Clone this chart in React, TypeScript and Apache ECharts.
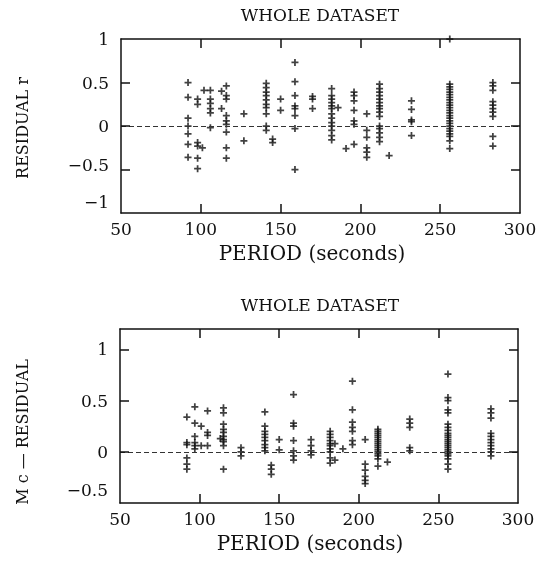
import React, { useEffect, useRef } from "react";
import * as echarts from "echarts";

// Tick values shared by both panels
const periodTicks = [50, 100, 150, 200, 250, 300];
const topResidualTicks = [-1, -0.5, 0, 0.5, 1];
const bottomResidualTicks = [-0.5, 0, 0.5, 1];

// Top panel: RESIDUAL r, grouped by period column
const topPeriod = [92, 98, 101, 102, 106, 113, 116, 127, 141, 145, 150, 159, 170, 182, 186, 191, 196, 204, 212, 218, 232, 256, 283];
const topResidual = [
  [0.5, 0.33, 0.09, 0.0, -0.09, -0.21, -0.36],
  [0.31, 0.25, -0.19, -0.23, -0.37, -0.49],
  [-0.25],
  [0.41],
  [0.41, 0.31, 0.26, 0.2, 0.15, -0.02],
  [0.4, 0.2],
  [0.46, 0.35, 0.31, 0.12, 0.06, 0.02, -0.07, -0.25, -0.37],
  [0.14, -0.17],
  [0.49, 0.44, 0.39, 0.35, 0.3, 0.25, 0.21, 0.14, 0.0, -0.05],
  [-0.15, -0.19],
  [0.31, 0.18],
  [0.73, 0.51, 0.35, 0.23, 0.2, 0.12, -0.03, -0.5],
  [0.34, 0.31, 0.2],
  [0.43, 0.35, 0.31, 0.27, 0.23, 0.2, 0.14, 0.09, 0.04, 0.0, -0.05, -0.11, -0.16],
  [0.21],
  [-0.26],
  [0.39, 0.35, 0.29, 0.18, 0.06, 0.02, -0.21],
  [0.14, -0.05, -0.13, -0.25, -0.3, -0.36],
  [0.48, 0.43, 0.39, 0.35, 0.31, 0.27, 0.23, 0.2, 0.16, 0.11, 0.0, -0.03, -0.08, -0.13, -0.18],
  [-0.34],
  [0.29, 0.19, 0.07, 0.05, -0.11],
  [1.0, 0.48, 0.45, 0.42, 0.39, 0.36, 0.33, 0.3, 0.27, 0.24, 0.21, 0.18, 0.15, 0.12, 0.09, 0.06, 0.03, 0.0, -0.03, -0.06, -0.09, -0.12, -0.17, -0.26],
  [0.5, 0.46, 0.41, 0.28, 0.24, 0.2, 0.16, 0.11, -0.12, -0.23],
];

// Bottom panel: M c — RESIDUAL, grouped by period column
const bottomPeriod = [92, 97, 101, 105, 113, 115, 126, 141, 145, 150, 159, 170, 182, 185, 190, 196, 204, 212, 218, 232, 256, 283];
const bottomResidual = [
  [0.34, 0.09, 0.07, -0.06, -0.12, -0.17],
  [0.44, 0.28, 0.15, 0.09, 0.06, 0.03],
  [0.25, 0.06],
  [0.4, 0.19, 0.16, 0.06],
  [0.13],
  [0.43, 0.38, 0.27, 0.22, 0.19, 0.15, 0.12, 0.1, 0.06, -0.17],
  [0.04, 0.0, -0.04],
  [0.39, 0.25, 0.2, 0.17, 0.14, 0.11, 0.07, 0.04, 0.01],
  [-0.13, -0.17, -0.22],
  [0.12, 0.02],
  [0.56, 0.28, 0.25, 0.11, 0.01, -0.04, -0.08],
  [0.12, 0.06, 0.01, -0.03],
  [0.2, 0.17, 0.14, 0.11, 0.08, 0.06, 0.03, 0.0, -0.06, -0.11],
  [0.08, -0.08],
  [0.03],
  [0.69, 0.41, 0.29, 0.24, 0.2, 0.11, 0.07],
  [0.12, -0.12, -0.18, -0.24, -0.28, -0.31],
  [0.22, 0.2, 0.18, 0.16, 0.14, 0.12, 0.1, 0.08, 0.06, 0.04, 0.02, 0.0, -0.02, -0.04, -0.07, -0.14],
  [-0.1],
  [0.32, 0.28, 0.24, 0.04, 0.01],
  [0.76, 0.53, 0.5, 0.41, 0.38, 0.27, 0.24, 0.21, 0.18, 0.16, 0.14, 0.12, 0.1, 0.08, 0.06, 0.04, 0.02, 0.0, -0.02, -0.04, -0.07, -0.12, -0.17],
  [0.42, 0.38, 0.33, 0.18, 0.15, 0.12, 0.09, 0.06, 0.03, 0.0, -0.04],
];

const panelTitle = "WHOLE DATASET";
const xName = "PERIOD (seconds)";
const topYName = "RESIDUAL r";
const bottomYName = "M c — RESIDUAL";

const FONT = "DejaVu Serif";
const INK = "#111111";
const PLUS = "path://M3,0 L5,0 L5,3 L8,3 L8,5 L5,5 L5,8 L3,8 L3,5 L0,5 L0,3 L3,3 Z";
const TICK_PX = 9;

function flatten(periods: number[], residuals: number[][]) {
  const out: number[][] = [];
  periods.forEach((p, i) => residuals[i].forEach((r) => out.push([p, r])));
  return out;
}

function fmtNum(v: number) {
  return v < 0 ? "\u2212" + Math.abs(v) : String(v);
}

const line = () => ({ show: true, onZero: false, lineStyle: { color: INK, width: 1.5 } });

type PanelProps = {
  top: number;
  height: number;
  grid: { left: number; top: number; width: number; height: number };
  yTicks: number[];
  yMax: number;
  periods: number[];
  residuals: number[][];
  yName: string;
  yNameY: number;
  xNameX: number;
  raise: (v: number) => number;
};

function Panel(p: PanelProps) {
  const ref = useRef<HTMLDivElement>(null);
  useEffect(() => {
    if (!ref.current) return;
    const chart = echarts.init(ref.current, null, { renderer: "svg" });
    const xMin = periodTicks[0];
    const xMax = periodTicks[periodTicks.length - 1];
    const yMin = p.yTicks[0];
    const yMax = p.yMax;
    const gBottom = p.grid.top + p.grid.height;
    // inward tick marks, built from the tick arrays (length converted from pixels to data units)
    const dx = (TICK_PX * (xMax - xMin)) / p.grid.width;
    const dy = (TICK_PX * (yMax - yMin)) / p.grid.height;
    const tickStyle = { type: "solid", color: INK, width: 1.5 };
    const tickSegs: any[] = [];
    periodTicks.filter((t) => t > xMin && t < xMax).forEach((t) => {
      tickSegs.push([{ coord: [t, yMin], lineStyle: tickStyle }, { coord: [t, yMin + dy] }]);
      tickSegs.push([{ coord: [t, yMax], lineStyle: tickStyle }, { coord: [t, yMax - dy] }]);
    });
    p.yTicks.filter((v) => v > yMin && v < yMax).forEach((v) => {
      tickSegs.push([{ coord: [xMin, v], lineStyle: tickStyle }, { coord: [xMin + dx, v] }]);
      tickSegs.push([{ coord: [xMax, v], lineStyle: tickStyle }, { coord: [xMax - dx, v] }]);
    });
    chart.setOption({
      animation: false,
      grid: p.grid,
      xAxis: [
        {
          type: "value", min: xMin, max: xMax, interval: 50, position: "bottom",
          splitLine: { show: false }, axisLine: line(), axisTick: { show: false },
          axisLabel: { fontFamily: FONT, fontSize: 17, color: INK, margin: 7 },
        },
        {
          type: "value", min: xMin, max: xMax, interval: 50, position: "top",
          splitLine: { show: false }, axisLine: line(), axisTick: { show: false },
          axisLabel: { show: false },
        },
      ],
      yAxis: [
        {
          type: "value", min: yMin, max: yMax, interval: 0.5, position: "left",
          splitLine: { show: false }, axisLine: line(), axisTick: { show: false },
          axisLabel: {
            fontFamily: FONT, fontSize: 17, color: INK, margin: 12,
            formatter: (v: number) => {
              if (v > 1.001) return "";
              const r = p.raise(v);
              return r > 0 ? `{u${r}|${fmtNum(v)}}` : fmtNum(v);
            },
            rich: {
              u10: { fontFamily: FONT, fontSize: 17, color: INK, padding: [0, 0, 10, 0] },
              u22: { fontFamily: FONT, fontSize: 17, color: INK, padding: [0, 0, 22, 0] },
              u26: { fontFamily: FONT, fontSize: 17, color: INK, padding: [0, 0, 26, 0] },
            },
          },
        },
        {
          type: "value", min: yMin, max: yMax, interval: 0.5, position: "right",
          splitLine: { show: false }, axisLine: line(), axisTick: { show: false },
          axisLabel: { show: false },
        },
      ],
      series: [
        {
          type: "scatter", xAxisIndex: 0, yAxisIndex: 0, symbol: PLUS, symbolSize: 7, clip: false,
          itemStyle: { color: INK },
          data: flatten(p.periods, p.residuals),
          markLine: {
            silent: true,
            symbol: ["none", "none"],
            label: { show: false },
            emphasis: { disabled: true },
            lineStyle: { type: [5, 3], color: "#333", width: 1 },
            data: [{ yAxis: 0 }, ...tickSegs],
          },
        },
      ],
      graphic: [
        { type: "text", x: 320, y: 15, style: { text: panelTitle, fontFamily: FONT, fontSize: 17, fill: INK, align: "center", verticalAlign: "middle" } },
        { type: "text", x: p.xNameX, y: gBottom + 40, style: { text: xName, fontFamily: FONT, fontSize: 20, fill: INK, align: "center", verticalAlign: "middle" } },
        { type: "text", x: 22, y: p.yNameY, rotation: Math.PI / 2, style: { text: p.yName, fontFamily: FONT, fontSize: 16, fill: INK, align: "center", verticalAlign: "middle" } },
      ],
    });
    return () => chart.dispose();
  }, []);
  return <div ref={ref} style={{ position: "fixed", left: 0, top: p.top, width: 541, height: p.height }} />;
}

export default function App() {
  return (
    <div>
      <Panel
        top={0}
        height={290}
        grid={{ left: 121, top: 39, width: 399, height: 174 }}
        yTicks={topResidualTicks}
        yMax={topResidualTicks[topResidualTicks.length - 1]}
        periods={topPeriod}
        residuals={topResidual}
        yName={topYName}
        yNameY={128}
        xNameX={312}
        raise={(v) => (v === -1 ? 22 : v === -0.5 ? 10 : 0)}
      />
      <Panel
        top={290}
        height={273}
        grid={{ left: 120, top: 39, width: 398, height: 174 }}
        yTicks={bottomResidualTicks}
        yMax={1.2}
        periods={bottomPeriod}
        residuals={bottomResidual}
        yName={bottomYName}
        yNameY={142}
        xNameX={310}
        raise={(v) => (v === -0.5 ? 26 : 0)}
      />
    </div>
  );
}
